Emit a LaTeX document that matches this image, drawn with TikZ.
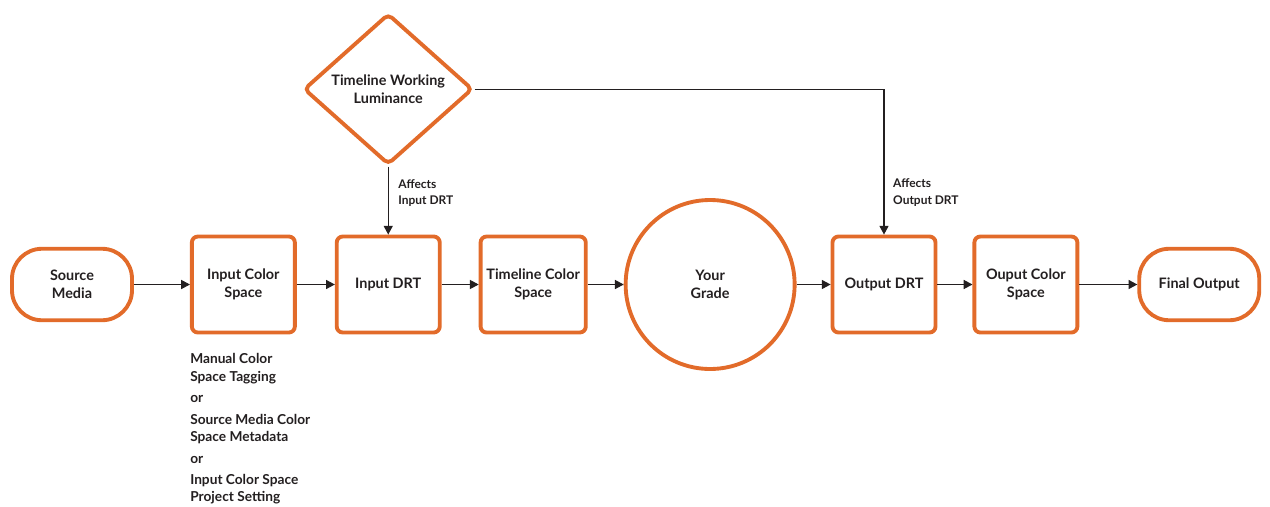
\documentclass[tikz,border=0pt]{standalone}
\usepackage{fontspec}
\setmainfont{Lato}
\usetikzlibrary{arrows.meta, positioning, shapes.geometric}
\definecolor{resolveorange}{RGB}{226,107,42}
\definecolor{inkgray}{RGB}{35,31,32}

\begin{document}
\begin{tikzpicture}[
    node distance=0.74cm,
    box/.style={rectangle, draw=resolveorange, line width=2.2pt, rounded corners=0.12cm,
                minimum width=2.06cm, minimum height=1.92cm, align=center, text=inkgray,
                font=\fontsize{8.2}{10.2}\selectfont\bfseries},
    term/.style={box, rounded corners=0.6cm, minimum width=2.4cm, minimum height=1.43cm},
    grade/.style={box, circle, minimum size=3.38cm},
    decide/.style={box, diamond, rounded corners=0.1cm, inner sep=0pt, aspect=1.12,
                   minimum width=3.38cm, minimum height=3.02cm},
    arr/.style={-{Triangle[length=5pt, width=5.2pt]}, line width=0.6pt, inkgray},
    port/.style={font=\fontsize{6.8}{9.6}\selectfont\bfseries, text=inkgray, align=left},
    note/.style={font=\fontsize{7.8}{9.9}\selectfont\bfseries, text=inkgray, align=left, inner sep=0pt},
]
    \node[term] (src) at (0,0) {Source\\Media};
    \node[box, right=1.12cm of src] (ics) {Input Color\\Space};
    \node[box, right=0.76cm of ics] (idrt) {Input DRT};
    \node[box, right=of idrt] (tcs) {Timeline Color\\Space};
    \node[grade, right=0.72cm of tcs] (yg) {Your\\Grade};
    \node[box, right=0.68cm of yg] (odrt) {Output DRT};
    \node[box, right=0.7cm of odrt] (ocs) {Ouput Color\\Space};
    \node[term, right=1.16cm of ocs] (final) {Final Output};
    \node[decide, above=1.36cm of idrt] (twl) {Timeline Working\\Luminance};
    \node[note, anchor=north west] (icsnote) at ([yshift=-0.38cm]ics.south west)
        {Manual Color\\Space Tagging\\[2.3pt]or\\[2.3pt]Source Media Color\\Space Metadata\\[2.3pt]or\\[2.3pt]Input Color Space\\Project Setting};

    \draw[arr] (src) -- (ics);
    \draw[arr] (ics) -- (idrt);
    \draw[arr] (idrt) -- (tcs);
    \draw[arr] (tcs) -- (yg);
    \draw[arr] (yg) -- (odrt);
    \draw[arr] (odrt) -- (ocs);
    \draw[arr] (ocs) -- (final);
    \draw[arr] (twl.south) -- (idrt.north)
        node[pos=0.39, right=2.2pt, port] {Affects\\Input DRT};
    \draw[arr] (twl.east) -| (odrt.north)
        node[pos=0.855, right=1.6pt, port] {Affects\\Output DRT};

    \useasboundingbox (-1.44,-4.43) rectangle (23.96,5.69);
\end{tikzpicture}
\end{document}
